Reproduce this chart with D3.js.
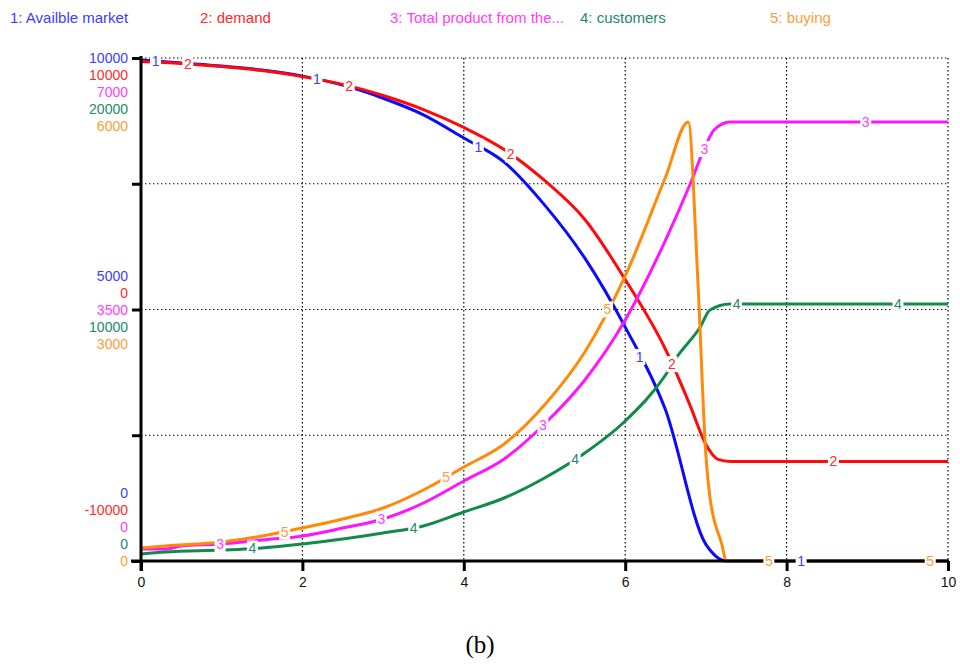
<!DOCTYPE html>
<html>
<head>
<meta charset="utf-8">
<script src="https://cdn.jsdelivr.net/npm/d3@7"></script>
<style>
  html, body { margin: 0; padding: 0; background: #fff; }
  svg { display: block; }
</style>
</head>
<body>
<svg id="chart" width="960" height="664"></svg>
<script>
// Simulation output, time 0..10
const seriesNames = ["1: Availble market", "2: demand", "3: Total product from the...", "4: customers", "5: buying"];

const availT = [0, 0.5, 1, 1.5, 2, 2.5, 3, 3.5, 4, 4.5, 5, 5.5, 6, 6.5, 7, 7.05, 7.25, 10];
const availV = [9960, 9900, 9840, 9760, 9640, 9460, 9200, 8870, 8410, 7930, 7080, 6020, 4650, 3000, 330, 220, 0, 0];

const demandT = [0, 0.5, 1, 1.5, 2, 2.5, 3, 3.5, 4, 4.5, 5, 5.5, 6, 6.5, 6.8, 7, 7.15, 7.3, 10];
const demandV = [9860, 9780, 9660, 9500, 9260, 8950, 8510, 7950, 7240, 6360, 5130, 3580, 1190, -1590, -3780, -5370, -5960, -6040, -6040];

const productT = [0, 0.3, 0.5, 1, 1.5, 2, 2.5, 3, 3.5, 4, 4.5, 5, 5.5, 6, 6.5, 6.8, 7, 7.1, 7.3, 10];
const productV = [167, 167, 209, 237, 292, 348, 459, 584, 807, 1113, 1420, 1907, 2519, 3354, 4467, 5232, 5789, 5998, 6109, 6109];

const customersT = [0, 0.3, 1, 1.5, 2, 2.5, 3, 3.5, 4, 4.5, 5, 5.5, 6, 6.5, 6.64, 6.93, 7.05, 7.3, 10];
const customersV = [278, 358, 437, 517, 676, 875, 1113, 1392, 1948, 2505, 3300, 4294, 5567, 7396, 8111, 9304, 9980, 10219, 10219];

const buyingT = [0, 0.3, 1, 1.5, 2, 2.5, 3, 3.5, 4, 4.5, 5, 5.5, 6, 6.5, 6.78, 6.9, 7, 7.05, 7.2, 7.25, 10];
const buyingV = [155, 179, 227, 298, 394, 501, 632, 847, 1121, 1396, 1861, 2493, 3400, 4580, 5237, 3352, 1264, 763, 190, 0, 0];

// Each series has its own vertical range: [min, mid, max]
const yTicks1 = ["0", "5000", "10000"];
const yTicks2 = ["-10000", "0", "10000"];
const yTicks3 = ["0", "3500", "7000"];
const yTicks4 = ["0", "10000", "20000"];
const yTicks5 = ["0", "3000", "6000"];

const xTicks = [0, 2, 4, 6, 8, 10];

const lineColors  = ["#0a0aff", "#ff0a0a", "#ff14ff", "#128a4a", "#ff8a0a"];
const labelColors = ["#3c3cff", "#ff2a2a", "#ff3cff", "#23886c", "#ff9a3a"];

const series = [
  { t: availT, v: availV, ticks: yTicks1 },
  { t: demandT, v: demandV, ticks: yTicks2 },
  { t: productT, v: productV, ticks: yTicks3 },
  { t: customersT, v: customersV, ticks: yTicks4 },
  { t: buyingT, v: buyingV, ticks: yTicks5 }
];

const SANS = "'Liberation Sans', Arial, sans-serif";
const svg = d3.select("#chart");
const plotL = 141, plotR = 948, plotT = 58, plotB = 561;

const x = d3.scaleLinear().domain([0, 10]).range([plotL, plotR]);
const yGrid = d3.scaleLinear().domain([0, 4]).range([plotB, plotT]);

// dotted grid
const grid = svg.append("g").attr("stroke", "#000").attr("stroke-width", 1.2)
  .attr("stroke-dasharray", "1.4,2.6").attr("fill", "none");
[1, 2, 3, 4].forEach(i => {
  grid.append("line").attr("x1", plotL).attr("x2", plotR)
    .attr("y1", yGrid(i)).attr("y2", yGrid(i));
});
xTicks.slice(1).forEach(t => {
  grid.append("line").attr("x1", x(t)).attr("x2", x(t))
    .attr("y1", plotT).attr("y2", plotB);
});

// series lines
series.forEach((s, i) => {
  const lo = +s.ticks[0], hi = +s.ticks[2];
  s.y = d3.scaleLinear().domain([lo, hi]).range([plotB, plotT]);
  s.f = d3.scaleLinear().domain(s.t).range(s.v);
  const pts = s.t.map((t, j) => [t, s.v[j]]);
  svg.append("path")
    .datum(pts)
    .attr("fill", "none")
    .attr("stroke", lineColors[i])
    .attr("stroke-width", 3)
    .attr("stroke-linejoin", "round")
    .attr("d", d3.line().curve(d3.curveMonotoneX).x(d => x(d[0])).y(d => s.y(d[1])));
});

// axes
const xAxis = svg.append("g").attr("transform", `translate(0,${plotB})`)
  .call(d3.axisBottom(x).tickValues(xTicks).tickFormat(d3.format("d"))
    .tickSize(10).tickSizeOuter(0).tickPadding(6));
const yAxis = svg.append("g").attr("transform", `translate(${plotL},0)`)
  .call(d3.axisLeft(yGrid).tickValues([0, 1, 2, 3, 4]).tickFormat("")
    .tickSize(9).tickSizeOuter(0));
[xAxis, yAxis].forEach(a => {
  a.select(".domain").attr("stroke", "#000").attr("stroke-width", 3);
  a.selectAll(".tick line").attr("stroke", "#000").attr("stroke-width", 3);
});
xAxis.selectAll(".tick text").attr("fill", "#111").attr("font-size", 14)
  .attr("font-family", SANS);
yAxis.select(".domain").attr("d", `M0,${plotT - 2}V${plotB + 10}`);
xAxis.select(".domain").attr("d", `M${plotL - 10},0H${plotR + 1}`);

// stacked value labels, one per series, at bottom / middle / top of the scale
const lh = 17;
const yLab = svg.append("g").attr("font-size", 14).attr("font-family", SANS)
  .attr("text-anchor", "end");
series.forEach((s, i) => {
  const pos = [plotB + (i - 4) * lh, yGrid(2) + (i - 2) * lh, plotT + i * lh];
  s.ticks.forEach((txt, k) => {
    yLab.append("text").attr("x", 128).attr("y", pos[k])
      .attr("dominant-baseline", "central")
      .attr("fill", labelColors[i]).text(txt);
  });
});

// series number markers along each line
const marks = svg.append("g").attr("font-size", 14).attr("font-family", SANS)
  .attr("text-anchor", "middle");
series.forEach((s, i) => {
  for (let k = 0; k < 5; k++) {
    const t = 0.18 + 0.4 * i + 2 * k;
    const px = x(t), py = s.y(s.f(t));
    marks.append("rect").attr("x", px - 5.5).attr("y", py - 8)
      .attr("width", 11).attr("height", 16).attr("fill", "#fff");
    marks.append("text").attr("x", px).attr("y", py)
      .attr("dominant-baseline", "central")
      .attr("fill", labelColors[i]).text(String(i + 1));
  }
});

// legend
const legendX = [10, 200, 390, 580, 770];
svg.append("g").attr("font-size", 15).attr("font-family", SANS)
  .selectAll("text").data(seriesNames).join("text")
  .attr("x", (d, i) => legendX[i]).attr("y", 23)
  .attr("fill", (d, i) => labelColors[i]).text(d => d);

// caption
svg.append("text").attr("x", 480).attr("y", 653).attr("text-anchor", "middle")
  .attr("font-family", "'Liberation Serif', 'Times New Roman', serif")
  .attr("font-size", 25).attr("fill", "#000").text("(b)");
</script>
</body>
</html>
